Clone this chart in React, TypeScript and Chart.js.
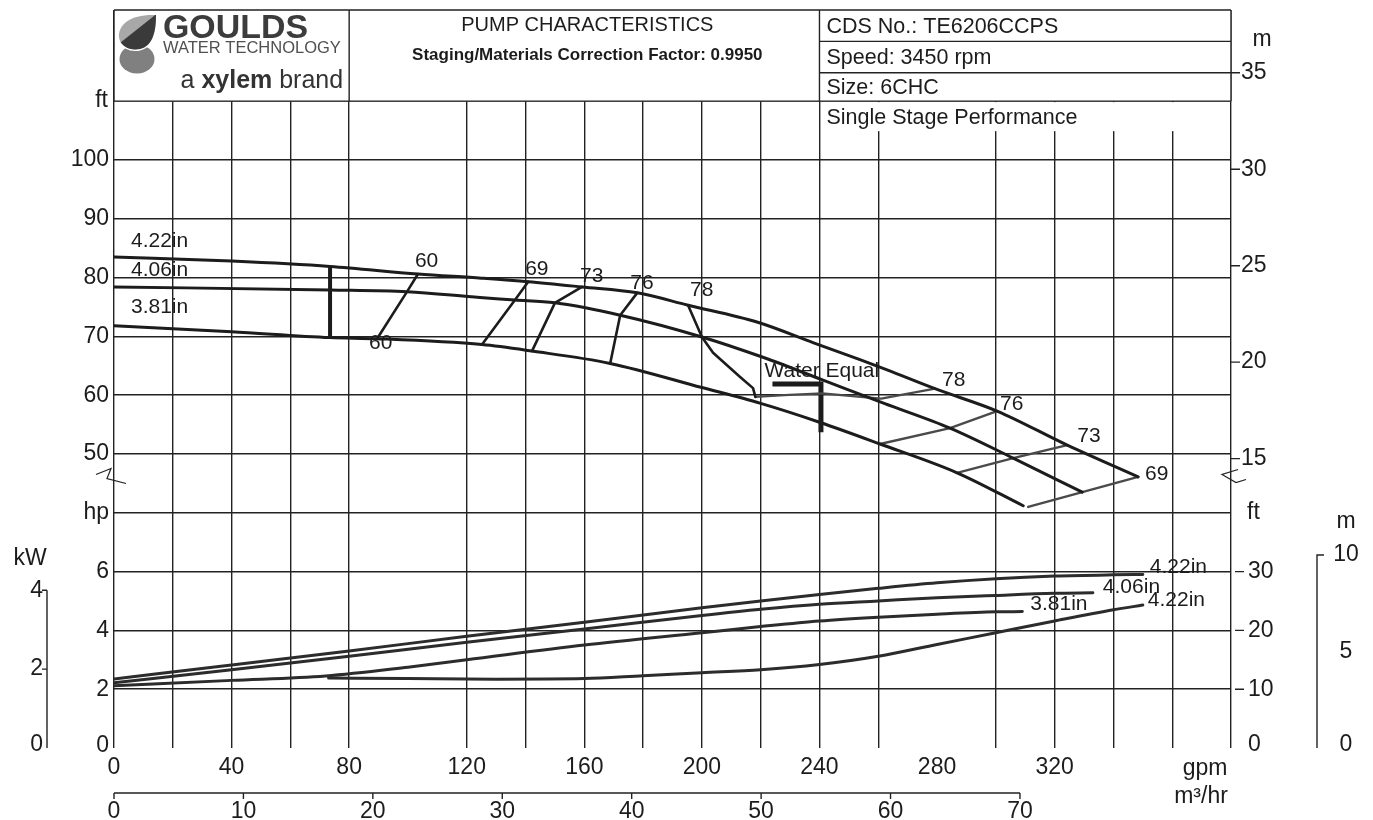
import { useEffect, useRef } from "react";
import { Chart, registerables } from "chart.js";

Chart.register(...registerables);

const FONT = "Arial, 'Liberation Sans', Helvetica, sans-serif";
const INK = "#1c1c1c";
const GRAY = "#4a4a4a";

const GPM_MAX = 380;
const FT_MAX = 125.5;
const GPM_PER_M3H = 4.4029;
const FT_PER_M = 3.28084;
const KW_PER_HP = 0.7457;

const GPM_LABELS = [0, 40, 80, 120, 160, 200, 240, 280, 320];
const M3H_LABELS = [0, 10, 20, 30, 40, 50, 60, 70];
const FT_LABELS = [50, 60, 70, 80, 90, 100];
const HP_LABELS = [0, 2, 4, 6];
const KW_LABELS = [0, 2, 4];
const M_HEAD_LABELS = [15, 20, 25, 30, 35];
const NPSH_FT_LABELS = [0, 10, 20, 30];
const NPSH_M_LABELS = [0, 5, 10];
const GRID_SKIP_GPM = [100, 280];

// Head curves (gpm, ft)
const head422Gpm = [0, 40, 73.5, 103.4, 125, 140.9, 159.2, 178, 195.3, 219, 238, 254, 263, 279.3, 300.4, 324.3, 348.4];
const head422Ft = [83.5, 82.8, 81.9, 80.6, 79.9, 79.3, 78.4, 77.4, 75.3, 72.4, 68.9, 66.0, 64.3, 61.1, 57.3, 51.5, 46.1];
const head406Gpm = [0, 73.5, 99.7, 124.5, 136.4, 150, 172.2, 200, 221, 241, 262, 284.4, 305.9, 329.4];
const head406Ft = [78.4, 77.9, 77.6, 76.6, 76.2, 75.7, 73.6, 69.9, 66.4, 62.6, 58.6, 54.4, 49.3, 43.5];
const head381Gpm = [0, 40, 73.5, 89.5, 125.2, 142.2, 168.8, 200, 220, 240, 260.6, 286.8, 309.3];
const head381Ft = [71.8, 70.8, 69.8, 69.6, 68.6, 67.5, 65.4, 61.3, 58.6, 55.4, 51.7, 46.8, 41.2];

// Efficiency iso-lines (gpm, ft)
const eff60Gpm = [89.5, 99.7, 103.4];
const eff60Ft = [69.6, 77.6, 80.6];
const eff69Gpm = [125.2, 136.4, 140.9];
const eff69Ft = [68.6, 76.2, 79.3];
const eff73Gpm = [142.2, 150, 159.2];
const eff73Ft = [67.5, 75.7, 78.4];
const eff76Gpm = [168.8, 172.2, 178];
const eff76Ft = [65.4, 73.6, 77.4];
const eff78Gpm = [195.3, 200, 203.8, 213, 217.4, 218.2];
const eff78Ft = [75.3, 69.9, 67.2, 63.1, 61.2, 59.7];
const eff78bGpm = [218.2, 228, 241, 254, 261, 279.3];
const eff78bFt = [59.7, 60.0, 60.3, 59.7, 59.4, 61.1];
const eff76bGpm = [260.6, 284.4, 300.4];
const eff76bFt = [51.7, 54.4, 57.3];
const eff73bGpm = [286.8, 305.9, 324.3];
const eff73bFt = [46.8, 49.3, 51.5];
const eff69bGpm = [311, 329.4, 348.4];
const eff69bFt = [41.0, 43.5, 46.1];

// Markers
const minFlowGpm = [73.5, 73.5];
const minFlowFt = [82.0, 69.8];
const waterEqGpm = [224, 240.5, 240.5];
const waterEqFt = [61.9, 61.9, 53.7];

// Power curves (gpm, hp)
const pow422Gpm = [0, 40, 80, 120, 160, 200, 220, 240, 260, 280, 300, 320, 340, 350];
const pow422Hp = [2.35, 2.82, 3.3, 3.8, 4.28, 4.77, 5.0, 5.22, 5.43, 5.62, 5.76, 5.85, 5.89, 5.9];
const pow406Gpm = [0, 40, 80, 120, 160, 200, 220, 240, 260, 280, 300, 320, 333];
const pow406Hp = [2.22, 2.66, 3.12, 3.6, 4.05, 4.51, 4.72, 4.89, 5.0, 5.11, 5.19, 5.26, 5.28];
const pow381Gpm = [0, 40, 72, 100, 120, 160, 200, 220, 240, 260, 280, 300, 309];
const pow381Hp = [2.12, 2.3, 2.45, 2.75, 3.0, 3.5, 3.92, 4.13, 4.32, 4.45, 4.55, 4.63, 4.64];

// NPSHr (gpm, ft)
const npshGpm = [73, 100, 130, 160, 180, 200, 220, 240, 260, 280, 300, 320, 340, 350];
const npshFt = [11.9, 11.8, 11.7, 11.8, 12.3, 12.8, 13.3, 14.2, 15.6, 17.6, 19.6, 21.6, 23.5, 24.3];

const pts = (xs: number[], ys: number[]) => xs.map((x, i) => ({ x, y: ys[i] }));

function txt(
  ctx: CanvasRenderingContext2D,
  s: string,
  x: number,
  y: number,
  size: number,
  o: { align?: CanvasTextAlign; bold?: boolean; color?: string; maxW?: number } = {}
) {
  ctx.font = `${o.bold ? "bold " : ""}${size}px ${FONT}`;
  ctx.fillStyle = o.color || INK;
  ctx.textAlign = o.align || "left";
  ctx.textBaseline = "middle";
  if (o.maxW) ctx.fillText(s, x, y, o.maxW);
  else ctx.fillText(s, x, y);
}

const last = (a: number[]) => a[a.length - 1];

const headerPlugin = {
  id: "header",
  beforeDatasetsDraw(chart: any) {
    const { ctx, scales, chartArea } = chart;
    const X = scales.x, Y = scales.y;
    const top = chartArea.top;
    const bot = Y.getPixelForValue(110);
    const xl = X.getPixelForValue(0);
    const xa = X.getPixelForValue(80);
    const xb = X.getPixelForValue(240);
    const xr = X.getPixelForValue(GPM_MAX);
    const row2 = Y.getPixelForValue(35 * FT_PER_M);
    const row1 = (top + row2) / 2;
    ctx.save();
    ctx.fillStyle = "#fff";
    ctx.fillRect(xl, top, xr - xl, bot - top);
    ctx.fillRect(xb + 1.5, bot + 1, xr - xb - 3, 29);
    ctx.strokeStyle = "#222";
    ctx.lineWidth = 1.4;
    ctx.beginPath();
    ctx.moveTo(xl, top); ctx.lineTo(xr, top);
    ctx.moveTo(xl, top); ctx.lineTo(xl, bot);
    ctx.moveTo(xr, top); ctx.lineTo(xr, bot);
    ctx.moveTo(xa, top); ctx.lineTo(xa, bot);
    ctx.moveTo(xb, top); ctx.lineTo(xb, bot);
    ctx.moveTo(xl, bot); ctx.lineTo(xr, bot);
    ctx.moveTo(xb, row1); ctx.lineTo(xr, row1);
    ctx.moveTo(xb, row2); ctx.lineTo(xr, row2);
    ctx.stroke();

    // logo
    const lx = xl + 5, ly = top + 5;
    ctx.fillStyle = "#808080";
    ctx.beginPath();
    ctx.ellipse(lx + 18, ly + 44, 17.5, 14.5, 0, 0, Math.PI * 2);
    ctx.fill();
    ctx.save();
    ctx.beginPath();
    ctx.moveTo(lx + 37, ly);
    ctx.bezierCurveTo(lx + 12, ly - 1, lx - 1, ly + 9, lx, ly + 22);
    ctx.bezierCurveTo(lx + 1, ly + 32, lx + 12, ly + 36, lx + 21, ly + 34);
    ctx.bezierCurveTo(lx + 33, ly + 31, lx + 37, ly + 18, lx + 37, ly);
    ctx.closePath();
    ctx.strokeStyle = "#fff";
    ctx.lineWidth = 3;
    ctx.stroke();
    ctx.clip();
    ctx.fillStyle = "#a8a8a8";
    ctx.fillRect(lx - 3, ly - 3, 44, 44);
    ctx.fillStyle = "#3a3a3a";
    ctx.beginPath();
    ctx.moveTo(lx + 40, ly - 3);
    ctx.lineTo(lx + 42, ly + 42);
    ctx.lineTo(lx - 3, ly + 42);
    ctx.lineTo(lx - 3, ly + 31);
    ctx.closePath();
    ctx.fill();
    ctx.restore();

    txt(ctx, "GOULDS", xl + 49, top + 19, 34, { bold: true, color: "#3c3c3c", maxW: 145 });
    txt(ctx, "WATER TECHNOLOGY", xl + 49, top + 38, 16.5, { color: "#505050", maxW: 181 });
    ctx.font = `25px ${FONT}`;
    const wBrand = ctx.measureText(" brand").width;
    ctx.font = `bold 25px ${FONT}`;
    const wXy = ctx.measureText("xylem").width;
    const rx = xa - 6;
    txt(ctx, " brand", rx, top + 71, 25, { align: "right", color: "#333" });
    txt(ctx, "xylem", rx - wBrand, top + 71, 25, { align: "right", bold: true, color: "#333" });
    txt(ctx, "a ", rx - wBrand - wXy, top + 71, 25, { align: "right", color: "#333" });

    // middle box
    const mc = (xa + xb) / 2;
    txt(ctx, "PUMP CHARACTERISTICS", mc + 3, top + 15, 20, { align: "center" });
    txt(ctx, "Staging/Materials Correction Factor: 0.9950", mc + 3, top + 45, 17, { align: "center", bold: true });

    // right box
    txt(ctx, "CDS No.: TE6206CCPS", xb + 7, (top + row1) / 2 + 1, 21.5);
    txt(ctx, "Speed: 3450 rpm", xb + 7, (row1 + row2) / 2 + 1, 21.5);
    txt(ctx, "Size: 6CHC", xb + 7, (row2 + bot) / 2 + 1, 21.5);
    txt(ctx, "Single Stage Performance", xb + 7, bot + 17, 21.5);

    // lower "60" label sits under the curve
    const p = [X.getPixelForValue(eff60Gpm[0]), Y.getPixelForValue(eff60Ft[0])];
    txt(ctx, "60", p[0] - 8, p[1] + 4, 21);
    ctx.restore();
  },
};

const labelPlugin = {
  id: "labels",
  afterDatasetsDraw(chart: any) {
    const { ctx, scales } = chart;
    const X = scales.x, Y = scales.y, H = scales.yHp;
    const px = (g: number, f: number) => [X.getPixelForValue(g), Y.getPixelForValue(f)];
    const ph = (g: number, h: number) => [X.getPixelForValue(g), H.getPixelForValue(h)];
    ctx.save();
    const L = (s: string, p: number[], dx: number, dy: number, size = 21) => txt(ctx, s, p[0] + dx, p[1] + dy, size);

    L("4.22in", px(head422Gpm[0], head422Ft[0]), 17, -16);
    L("4.06in", px(head406Gpm[0], head406Ft[0]), 17, -17);
    L("3.81in", px(head381Gpm[0], head381Ft[0]), 17, -19);

    L("60", px(last(eff60Gpm), last(eff60Ft)), -3, -13);
    L("69", px(last(eff69Gpm), last(eff69Ft)), -3, -12);
    L("73", px(last(eff73Gpm), last(eff73Ft)), -2, -11);
    L("76", px(last(eff76Gpm), last(eff76Ft)), -7, -10);
    L("78", px(eff78Gpm[0], eff78Ft[0]), 2, -15);
    L("78", px(last(eff78bGpm), last(eff78bFt)), 7, -8);
    L("76", px(last(eff76bGpm), last(eff76bFt)), 3, -7);
    L("73", px(last(eff73bGpm), last(eff73bFt)), 10, -9);
    L("69", px(last(eff69bGpm), last(eff69bFt)), 7, -3);
    L("Water Equal", px(waterEqGpm[0], waterEqFt[0]), -8, -13);

    L("4.22in", ph(last(pow422Gpm), last(pow422Hp)), 7, -7);
    L("4.06in", ph(last(pow406Gpm), last(pow406Hp)), 10, -6);
    L("3.81in", ph(last(pow381Gpm), last(pow381Hp)), 8, -7);
    L("4.22in", px(last(npshGpm), last(npshFt)), 5, -5);
    ctx.restore();
  },
};

const axisPlugin = {
  id: "axes",
  afterDraw(chart: any) {
    const { ctx, scales, chartArea } = chart;
    const X = scales.x, Y = scales.y, H = scales.yHp;
    const xl = X.getPixelForValue(0);
    const xr = X.getPixelForValue(GPM_MAX);
    const bottom = chartArea.bottom;
    ctx.save();
    ctx.strokeStyle = "#222";
    ctx.lineWidth = 1.4;

    // left ft / hp labels
    const LX = xl - 5;
    FT_LABELS.forEach((v) => txt(ctx, String(v), LX, Y.getPixelForValue(v), 23, { align: "right" }));
    txt(ctx, "ft", LX - 1, Y.getPixelForValue(110), 23, { align: "right" });
    HP_LABELS.forEach((v) => txt(ctx, String(v), LX, H.getPixelForValue(v) + (v === 0 ? -2 : 0), 23, { align: "right" }));
    txt(ctx, "hp", LX, H.getPixelForValue(8), 23, { align: "right" });

    // kW axis
    const kx = xl - 67;
    const kTop = H.getPixelForValue(4 / KW_PER_HP);
    ctx.beginPath();
    ctx.moveTo(kx, kTop); ctx.lineTo(kx, bottom);
    KW_LABELS.forEach((v) => {
      if (v > 0) {
        const yy = H.getPixelForValue(v / KW_PER_HP);
        ctx.moveTo(kx - 5, yy); ctx.lineTo(kx, yy);
      }
    });
    ctx.stroke();
    KW_LABELS.forEach((v) => txt(ctx, String(v), kx - 4, H.getPixelForValue(v / KW_PER_HP) + (v === 0 ? -3 : 0), 23, { align: "right" }));
    txt(ctx, "kW", kx - 17, kTop - 32, 23, { align: "center" });

    // right upper m axis
    ctx.beginPath();
    M_HEAD_LABELS.forEach((m) => {
      const yy = Y.getPixelForValue(m * FT_PER_M);
      ctx.moveTo(xr, yy); ctx.lineTo(xr + 9, yy);
    });
    ctx.stroke();
    M_HEAD_LABELS.forEach((m) => txt(ctx, String(m), xr + 10, Y.getPixelForValue(m * FT_PER_M), 23));
    txt(ctx, "m", xr + 31, Y.getPixelForValue(35 * FT_PER_M) - 33, 23, { align: "center" });

    // right lower NPSH ft axis
    ctx.beginPath();
    NPSH_FT_LABELS.forEach((v) => {
      if (v > 0) {
        const yy = Y.getPixelForValue(v);
        ctx.moveTo(xr + 4, yy); ctx.lineTo(xr + 13, yy);
      }
    });
    ctx.stroke();
    NPSH_FT_LABELS.forEach((v) => txt(ctx, String(v), xr + 17, Y.getPixelForValue(v) + (v === 0 ? -3 : 0), 23));
    txt(ctx, "ft", xr + 16, Y.getPixelForValue(40), 23);

    // far right NPSH m axis
    const mx = xr + 86;
    const mTop = Y.getPixelForValue(10 * FT_PER_M);
    ctx.beginPath();
    ctx.moveTo(mx, bottom); ctx.lineTo(mx, mTop); ctx.lineTo(mx + 7, mTop);
    ctx.stroke();
    NPSH_M_LABELS.forEach((v) => txt(ctx, String(v), mx + 29, Y.getPixelForValue(v * FT_PER_M) + (v === 0 ? -3 : 0), 23, { align: "center" }));
    txt(ctx, "m", mx + 29, mTop - 33, 23, { align: "center" });

    // bottom gpm labels
    GPM_LABELS.forEach((v) => txt(ctx, String(v), X.getPixelForValue(v), bottom + 20, 23, { align: "center" }));
    txt(ctx, "gpm", xr - 26, bottom + 21, 23, { align: "center" });

    // m3/hr axis
    const my = bottom + 45;
    const mEnd = X.getPixelForValue(last(M3H_LABELS) * GPM_PER_M3H);
    ctx.beginPath();
    ctx.moveTo(xl, my); ctx.lineTo(mEnd, my);
    M3H_LABELS.forEach((v) => {
      const xx = X.getPixelForValue(v * GPM_PER_M3H);
      ctx.moveTo(xx, my); ctx.lineTo(xx, my + 6);
    });
    ctx.stroke();
    M3H_LABELS.forEach((v) => txt(ctx, String(v), X.getPixelForValue(v * GPM_PER_M3H), my + 19, 23, { align: "center" }));
    txt(ctx, "m³/hr", xr - 30, bottom + 49, 23, { align: "center" });

    // axis break marks
    const by = Y.getPixelForValue(46);
    ctx.lineWidth = 1.2;
    ctx.beginPath();
    ctx.moveTo(xl - 18, by - 3); ctx.lineTo(xl - 3, by - 9); ctx.lineTo(xl - 7, by + 1); ctx.lineTo(xl + 12, by + 6);
    ctx.moveTo(xr + 7, by - 8); ctx.lineTo(xr - 9, by - 3); ctx.lineTo(xr + 5, by + 5); ctx.lineTo(xr + 15, by + 2);
    ctx.stroke();
    ctx.restore();
  },
};

function makeDatasets() {
  const line = (xs: number[], ys: number[], o: any = {}) => ({
    data: pts(xs, ys),
    borderColor: INK,
    borderWidth: 3,
    pointRadius: 0,
    fill: false,
    yAxisID: "y",
    cubicInterpolationMode: "monotone",
    borderCapStyle: "round",
    borderJoinStyle: "round",
    ...o,
  });
  const iso = (xs: number[], ys: number[], color = INK, w = 2.6) =>
    line(xs, ys, { tension: 0, cubicInterpolationMode: "default", borderColor: color, borderWidth: w });
  return [
    line(head422Gpm, head422Ft),
    line(head406Gpm, head406Ft),
    line(head381Gpm, head381Ft),
    iso(eff60Gpm, eff60Ft),
    iso(eff69Gpm, eff69Ft),
    iso(eff73Gpm, eff73Ft),
    iso(eff76Gpm, eff76Ft),
    iso(eff78Gpm, eff78Ft),
    iso(eff78bGpm, eff78bFt, GRAY, 2.2),
    iso(eff76bGpm, eff76bFt, GRAY, 2.4),
    iso(eff73bGpm, eff73bFt, GRAY, 2.4),
    iso(eff69bGpm, eff69bFt, GRAY, 2.4),
    line(minFlowGpm, minFlowFt, { tension: 0, borderWidth: 4, borderCapStyle: "butt" }),
    line(waterEqGpm, waterEqFt, { tension: 0, borderWidth: 5, borderCapStyle: "butt", borderJoinStyle: "miter", cubicInterpolationMode: "default" }),
    line(pow422Gpm, pow422Hp, { yAxisID: "yHp", borderColor: "#2c2c2c" }),
    line(pow406Gpm, pow406Hp, { yAxisID: "yHp", borderColor: "#2c2c2c" }),
    line(pow381Gpm, pow381Hp, { yAxisID: "yHp", borderColor: "#2c2c2c" }),
    line(npshGpm, npshFt, { borderColor: "#2c2c2c" }),
  ];
}

export default function App() {
  const ref = useRef<HTMLCanvasElement>(null);
  useEffect(() => {
    if (!ref.current) return;
    const chart = new Chart(ref.current, {
      type: "line",
      data: { datasets: makeDatasets() as any },
      options: {
        animation: false,
        responsive: false,
        devicePixelRatio: 1,
        events: [],
        layout: { padding: { left: 114, top: 10, right: 142, bottom: 72 } },
        plugins: { legend: { display: false }, tooltip: { enabled: false } },
        scales: {
          x: {
            type: "linear",
            min: 0,
            max: GPM_MAX,
            ticks: { display: false, stepSize: 20, autoSkip: false },
            grid: {
              drawTicks: false,
              lineWidth: 1.4,
              color: (c: any) => (GRID_SKIP_GPM.includes(c.tick?.value) ? "rgba(0,0,0,0)" : "#222"),
            },
            border: { display: false },
          },
          y: {
            type: "linear",
            min: 0,
            max: FT_MAX,
            ticks: { display: false, stepSize: 10, autoSkip: false },
            grid: {
              drawTicks: false,
              lineWidth: 1.4,
              color: (c: any) => {
                const v = c.tick?.value;
                return v >= 10 && v <= 110 ? "#222" : "rgba(0,0,0,0)";
              },
            },
            border: { display: false },
          },
          yHp: { type: "linear", display: false, min: 0, max: FT_MAX / 5 },
        },
      } as any,
      plugins: [headerPlugin, labelPlugin, axisPlugin],
    });
    return () => chart.destroy();
  }, []);
  return (
    <div style={{ position: "fixed", left: 0, top: 0, width: 1373, height: 820, background: "#fff" }}>
      <canvas ref={ref} width={1373} height={820} style={{ display: "block", width: 1373, height: 820 }} />
    </div>
  );
}
